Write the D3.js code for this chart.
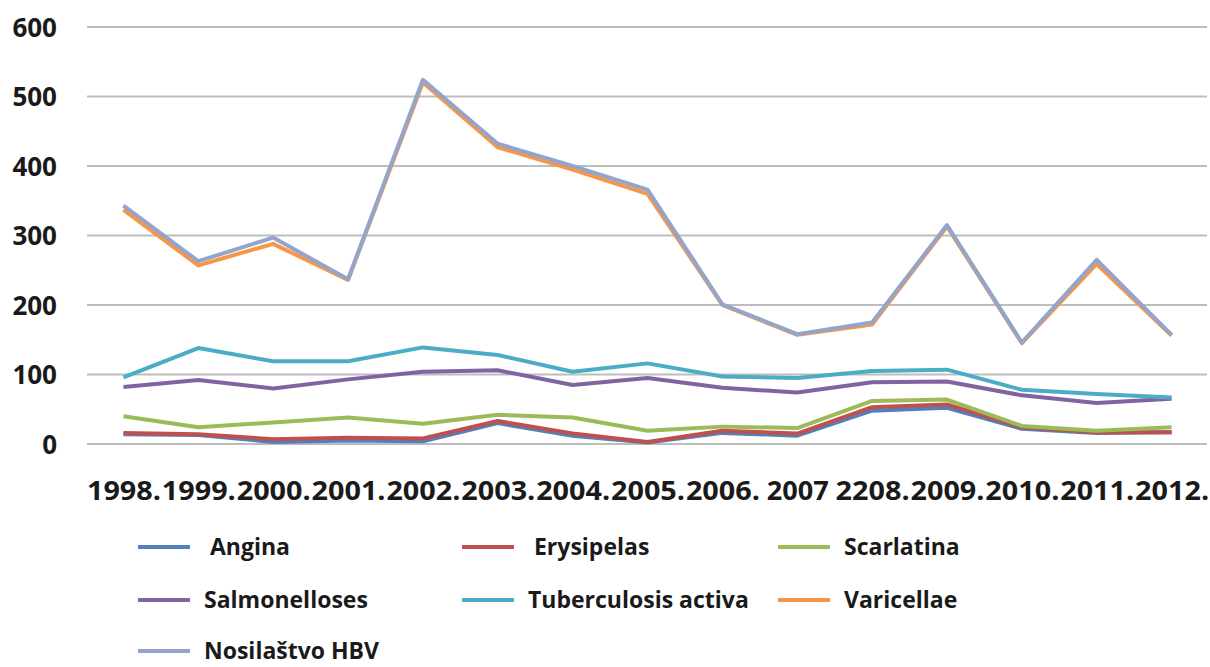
<!DOCTYPE html>
<html lang="en">
<head>
<meta charset="UTF-8">
<title>Infectious diseases 1998-2012</title>
<script src="https://cdn.jsdelivr.net/npm/d3@7"></script>
<style>
    body { margin: 0; background: #fff; }
    text { font-family: "Open Sans", "Noto Sans", sans-serif; font-weight: 700; fill: #1a1a1a; }
</style>
</head>
<body>
<div id="chart"></div>
<script>
// data
const years = ["1998.", "1999.", "2000.", "2001.", "2002.", "2003.", "2004.", "2005.",
               "2006.", "2007", "2208.", "2009.", "2010.", "2011.", "2012."];
const yTicks = [0, 100, 200, 300, 400, 500, 600];

const angina        = [14, 13, 3, 5, 4, 30, 12, 2, 16, 12, 48, 52, 22, 16, 17];
const erysipelas    = [16, 14, 7, 9, 8, 33, 15, 3, 19, 15, 53, 57, 24, 17, 17];
const scarlatina    = [40, 24, 31, 38, 29, 42, 38, 19, 25, 23, 62, 64, 26, 19, 24];
const salmonelloses = [82, 92, 80, 93, 104, 106, 85, 95, 81, 74, 89, 90, 70, 59, 65];
const tuberculosis  = [96, 138, 119, 119, 139, 128, 104, 116, 97, 95, 105, 107, 78, 72, 67];
const varicellae    = [337, 257, 288, 236, 520, 427, 395, 360, 200, 157, 172, 313, 145, 259, 156];
const hbv           = [343, 263, 297, 237, 524, 432, 400, 366, 201, 158, 175, 315, 146, 265, 157];

const series = [
    { name: " Angina", values: angina, color: "#4F81BD" },
    { name: " Erysipelas", values: erysipelas, color: "#C0504D" },
    { name: "Scarlatina", values: scarlatina, color: "#9BBB59" },
    { name: "Salmonelloses", values: salmonelloses, color: "#8064A2" },
    { name: "Tuberculosis activa", values: tuberculosis, color: "#4BACC6" },
    { name: "Varicellae", values: varicellae, color: "#F79646" },
    { name: "Nosilaštvo HBV", values: hbv, color: "#94A5CC" }
];

const width = 1210, height = 667;
const plotLeft = 86, plotRight = 1209, plotTop = 27, plotBottom = 444;

const svg = d3.select("#chart").append("svg")
    .attr("width", width)
    .attr("height", height);

const x = d3.scalePoint()
    .domain(years)
    .range([plotLeft, plotRight])
    .padding(0.5);

const y = d3.scaleLinear()
    .domain([0, 600])
    .range([plotBottom, plotTop]);

// gridlines
svg.append("g")
    .selectAll("line")
    .data(yTicks)
    .join("line")
    .attr("x1", plotLeft + 1)
    .attr("x2", plotRight - 2)
    .attr("y1", d => y(d))
    .attr("y2", d => y(d))
    .attr("stroke", "#bdbdbd")
    .attr("stroke-width", 2);

// y axis labels
let yAxis = d3.axisLeft(y).tickValues(yTicks).tickSize(0).tickPadding(0);
svg.append("g")
    .attr("transform", "translate(57,0)")
    .call(yAxis)
    .call(g => g.select(".domain").remove())
    .call(g => g.selectAll("text")
        .attr("font-size", 26)
        .attr("font-family", null)
        .attr("fill", null)
        .attr("dy", "0.35em"));

// x axis labels
let xAxis = d3.axisBottom(x).tickSize(0).tickPadding(0);
svg.append("g")
    .attr("transform", `translate(0,${plotBottom})`)
    .call(xAxis)
    .call(g => g.select(".domain").remove())
    .call(g => g.selectAll("text")
        .attr("font-size", 27)
        .attr("font-family", null)
        .attr("fill", null)
        .attr("y", 56)
        .attr("dy", 0)
        .attr("textLength", d => d.endsWith(".") ? 74 : 62)
        .attr("lengthAdjust", "spacingAndGlyphs"));

// lines
const line = d3.line()
    .x((d, i) => x(years[i]))
    .y(d => y(d));

svg.append("g")
    .selectAll("path")
    .data(series)
    .join("path")
    .attr("d", d => line(d.values))
    .attr("fill", "none")
    .attr("stroke", d => d.color)
    .attr("stroke-width", 4)
    .attr("stroke-linejoin", "round");

// legend
const legendCols = [138, 462, 778];
const legendRows = [547, 600, 651];
const legend = svg.append("g")
    .selectAll("g")
    .data(series)
    .join("g")
    .attr("transform", (d, i) => `translate(${legendCols[i % 3]},${legendRows[Math.floor(i / 3)]})`);

legend.append("line")
    .attr("x1", 0)
    .attr("x2", 52)
    .attr("stroke", d => d.color)
    .attr("stroke-width", 4);

legend.append("text")
    .attr("x", 66)
    .attr("dy", "0.35em")
    .attr("font-size", 23)
    .style("white-space", "pre")
    .text(d => d.name);
</script>
</body>
</html>
